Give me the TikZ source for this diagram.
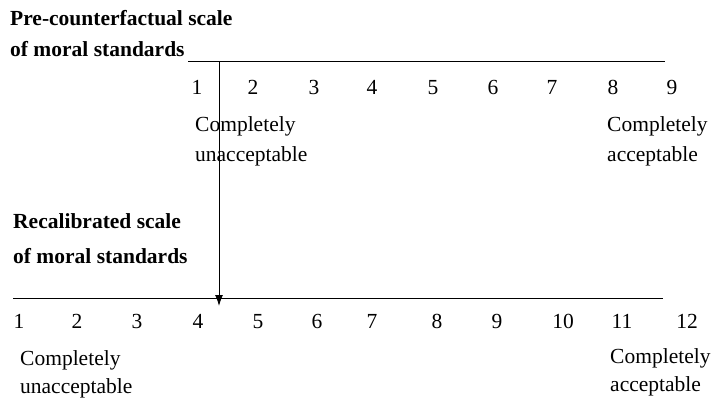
\documentclass[tikz,border=0pt]{standalone}
\usepackage{fontspec}
\setmainfont{Liberation Serif}
\usetikzlibrary{arrows.meta, positioning}

\begin{document}
\begin{tikzpicture}[x=1pt, y=-1pt, font=\fontsize{21.5}{25}\selectfont,
  every node/.style={inner sep=0pt},
  lbl/.style={anchor=base west},
  num/.style={anchor=base},
  ttl/.style={anchor=base west, font=\fontsize{21.5}{25}\selectfont\bfseries},
  scaleline/.style={line width=1pt}]
\useasboundingbox (0,0) rectangle (711,403);

% Pre-counterfactual scale
\node[ttl] (pretitle) at (10,26) {Pre-counterfactual scale};
\node[ttl] (pretitleb) at (10,57) {of moral standards};
\coordinate (preL) at (188,62);
\coordinate (preR) at (665,62);
\draw[scaleline] (preL) -- (preR);
\node[num] (p1) at (197,95) {1};
\node[num] (p2) at (253,95) {2};
\node[num] (p3) at (314,95) {3};
\node[num] (p4) at (372,95) {4};
\node[num] (p5) at (433,95) {5};
\node[num] (p6) at (493,95) {6};
\node[num] (p7) at (552,95) {7};
\node[num] (p8) at (613,95) {8};
\node[num] (p9) at (672,95) {9};
\node[lbl] (preLo) at (195,132) {Completely};
\node[lbl] (preLob) at (195,162) {unacceptable};
\node[lbl] (preHi) at (607,132) {Completely};
\node[lbl] (preHib) at (607,162) {acceptable};

% Recalibrated scale
\node[ttl] (rectitle) at (13,229) {Recalibrated scale};
\node[ttl] (rectitleb) at (13,263) {of moral standards};
\coordinate (recL) at (13,298);
\coordinate (recR) at (663,298);
\draw[scaleline] (recL) -- (recR);
\node[num] (r1) at (19,328) {1};
\node[num] (r2) at (77,328) {2};
\node[num] (r3) at (137,328) {3};
\node[num] (r4) at (198,328) {4};
\node[num] (r5) at (258,328) {5};
\node[num] (r6) at (317,328) {6};
\node[num] (r7) at (372,328) {7};
\node[num] (r8) at (437,328) {8};
\node[num] (r9) at (497,328) {9};
\node[num] (r10) at (563,328) {10};
\node[num] (r11) at (622,328) {11};
\node[num] (r12) at (687,328) {12};
\node[lbl] (recLo) at (20,365) {Completely};
\node[lbl] (recLob) at (20,393) {unacceptable};
\node[lbl] (recHi) at (610,363) {Completely};
\node[lbl] (recHib) at (610,391) {acceptable};

% Shift of the scale point
\coordinate (shiftTop) at (219,62);
\coordinate (shiftBot) at (219,306);
\draw[scaleline, -{Latex[length=11pt, width=8pt]}] (shiftTop) -- (shiftBot);
\end{tikzpicture}
\end{document}
